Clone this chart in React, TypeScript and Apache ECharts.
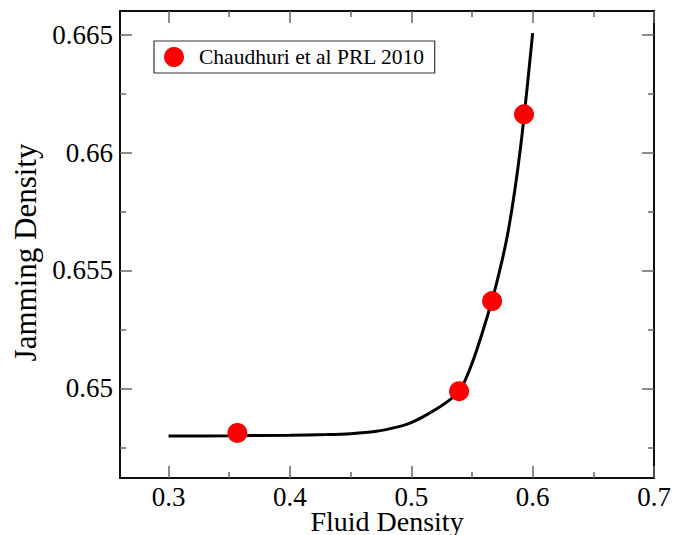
import React, { useEffect, useRef } from "react";
import * as echarts from "echarts";

const curveX = [0.30, 0.35, 0.40, 0.43, 0.45, 0.47, 0.49, 0.50, 0.51, 0.52, 0.53, 0.54, 0.55, 0.56, 0.57, 0.58, 0.59, 0.60];
const curveY = [0.64798, 0.64799, 0.64801, 0.64804, 0.64808, 0.64817, 0.64838, 0.64855, 0.6488, 0.6491, 0.64945, 0.6499, 0.65105, 0.6526, 0.6544, 0.6567, 0.6602, 0.66506];
const pointX = [0.3567, 0.5394, 0.5666, 0.5929];
const pointY = [0.64811, 0.64988, 0.6537, 0.66162];
const xTicks = [0.3, 0.4, 0.5, 0.6, 0.7];
const xMinorTicks = [0.35, 0.45, 0.55, 0.65];
const yTicks = [0.65, 0.655, 0.66, 0.665];
const yMinorTicks = [0.6475, 0.6525, 0.6575, 0.6625];
const legendName = "Chaudhuri et al PRL 2010";

const FONT = "Liberation Serif";
const X_MIN = 0.26, X_MAX = 0.7, Y_MIN = 0.6462, Y_MAX = 0.666;

export default function App() {
  const ref = useRef<HTMLDivElement>(null);
  useEffect(() => {
    if (!ref.current) return;
    const chart = echarts.init(ref.current, null, { renderer: "svg" });
    const fmt = (v: number) => String(parseFloat(Number(v).toFixed(4)));
    const lineStyle = { color: "#000", width: 1.5 };
    const mkX = (grid: number, position: string, ticks: number[], len: number, labels: boolean) => ({
      type: "value", gridIndex: grid, position, min: X_MIN, max: X_MAX,
      axisLine: { show: true, lineStyle },
      axisTick: { show: true, inside: true, length: len, customValues: ticks, lineStyle: { color: "#666", width: 1.5 } },
      axisLabel: labels
        ? { show: true, customValues: xTicks, formatter: fmt, fontFamily: FONT, fontSize: 27, lineHeight: 20, color: "#000", margin: 9 }
        : { show: false },
      splitLine: { show: false },
      ...(labels ? { name: "Fluid Density", nameLocation: "middle", nameGap: 32, nameMoveOverlap: false, nameTextStyle: { fontFamily: FONT, fontSize: 28, lineHeight: 22, color: "#000" } } : {}),
    });
    const mkY = (grid: number, position: string, ticks: number[], len: number, labels: boolean) => ({
      type: "value", gridIndex: grid, position, min: Y_MIN, max: Y_MAX,
      axisLine: { show: true, lineStyle },
      axisTick: { show: true, inside: true, length: len, customValues: ticks, lineStyle: { color: "#666", width: 1.5 } },
      axisLabel: labels
        ? { show: true, customValues: yTicks, formatter: fmt, fontFamily: FONT, fontSize: 27, color: "#000", margin: 7 }
        : { show: false },
      splitLine: { show: false },
      ...(labels ? { name: "Jamming Density", nameLocation: "middle", nameGap: 77, nameRotate: 90, nameTextStyle: { fontFamily: FONT, fontSize: 31, color: "#000", padding: [0, 16, 0, 0] } } : {}),
    });
    const gridRect = { left: 120, top: 11, right: 19, bottom: 57, containLabel: false, outerBoundsMode: "none" };
    chart.setOption({
      animation: false,
      backgroundColor: "#fff",
      grid: [{ ...gridRect }, { ...gridRect }],
      xAxis: [
        mkX(0, "bottom", xTicks, 12, true),
        mkX(0, "top", xTicks, 12, false),
        mkX(1, "bottom", xMinorTicks, 6, false),
        mkX(1, "top", xMinorTicks, 6, false),
      ],
      yAxis: [
        mkY(0, "left", yTicks, 12, true),
        mkY(0, "right", yTicks, 12, false),
        mkY(1, "left", yMinorTicks, 6, false),
        mkY(1, "right", yMinorTicks, 6, false),
      ],
      legend: {
        data: [legendName],
        left: 154, top: 41,
        padding: [5, 10, 5, 10],
        borderColor: "#333", borderWidth: 1.2,
        icon: "circle", itemWidth: 40, itemHeight: 20,
        itemStyle: { opacity: 1 },
        textStyle: { fontFamily: FONT, fontSize: 21.5, color: "#000" },
        selectedMode: false,
      },
      series: [
        {
          type: "line", name: "curve", xAxisIndex: 0, yAxisIndex: 0,
          data: curveX.map((x, i) => [x, curveY[i]]),
          showSymbol: false, symbol: "none", smooth: 0.3,
          lineStyle: { color: "#000", width: 3 }, z: 2,
        },
        {
          type: "scatter", name: legendName, xAxisIndex: 0, yAxisIndex: 0,
          data: pointX.map((x, i) => [x, pointY[i]]),
          symbol: "circle", symbolSize: 20,
          itemStyle: { color: "#ff0000", opacity: 1 }, z: 3,
        },
      ],
    });
    return () => chart.dispose();
  }, []);
  return <div ref={ref} style={{ width: 673, height: 535, position: "absolute", left: 0, top: 0 }} />;
}
